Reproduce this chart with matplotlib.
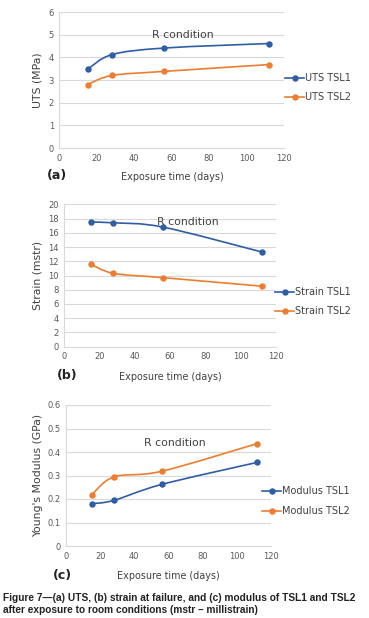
import matplotlib
matplotlib.use("Agg")
import matplotlib.pyplot as plt
from matplotlib.path import Path
from matplotlib.patches import PathPatch
from matplotlib.lines import Line2D
import numpy as np

days = [15, 28, 56, 112]

uts_tsl1 = [3.47, 4.12, 4.41, 4.61]
uts_tsl2 = [2.80, 3.20, 3.38, 3.68]

strain_tsl1 = [17.5, 17.4, 16.8, 13.3]
strain_tsl2 = [11.6, 10.3, 9.7, 8.5]

mod_tsl1 = [0.180, 0.194, 0.262, 0.356]
mod_tsl2 = [0.218, 0.294, 0.318, 0.436]

x_ticks = [0, 20, 40, 60, 80, 100, 120]

BLUE = "#2F5DA6"
ORANGE = "#ED7D31"
GRID = "#D9D9D9"
TICK = "#595959"
TXT = "#404040"


def smooth_path(xs, ys):
    p = np.column_stack([xs, ys]).astype(float)
    n = len(p)
    verts = [p[0]]
    codes = [Path.MOVETO]
    for i in range(n - 1):
        p0 = p[i - 1] if i > 0 else p[i]
        p1 = p[i]
        p2 = p[i + 1]
        p3 = p[i + 2] if i + 2 < n else p[i + 1]
        c1 = p1 + (p2 - p0) / 6.0
        c2 = p2 - (p3 - p1) / 6.0
        verts += [c1, c2, p2]
        codes += [Path.CURVE4] * 3
    return Path(verts, codes)


fig = plt.figure(figsize=(3.69, 6.18), dpi=100)
W, H = 369.0, 618.0


def make_axes(left, right, top, bottom):
    return fig.add_axes([left / W, 1 - bottom / H, (right - left) / W, (bottom - top) / H])


panels = [
    dict(box=(59.5, 284, 12, 148), ymax=6, ystep=1, ylabel="UTS (MPa)",
         s1=uts_tsl1, s2=uts_tsl2, n1="UTS TSL1", n2="UTS TSL2",
         rc=(66, 4.98), tag="(a)", tagxy=(47, 176), xlab=(172, 177),
         leg=(285, 78, 97), ylx=38, yfmt="{:g}"),
    dict(box=(64, 276, 204.3, 346.7), ymax=20, ystep=2, ylabel="Strain (mstr)",
         s1=strain_tsl1, s2=strain_tsl2, n1="Strain TSL1", n2="Strain TSL2",
         rc=(70, 17.5), tag="(b)", tagxy=(57, 376), xlab=(170, 377),
         leg=(275, 292, 311), ylx=38, yfmt="{:g}"),
    dict(box=(66, 271, 405, 546), ymax=0.6, ystep=0.1, ylabel="Young's Modulus (GPa)",
         s1=mod_tsl1, s2=mod_tsl2, n1="Modulus TSL1", n2="Modulus TSL2",
         rc=(63.6, 0.437), tag="(c)", tagxy=(53, 575), xlab=(168, 576),
         leg=(262, 491, 511), ylx=38, yfmt="{:g}"),
]

for pnl in panels:
    l, r, t, b = pnl["box"]
    ax = make_axes(l, r, t, b)
    ax.set_xlim(0, 120)
    ax.set_ylim(0, pnl["ymax"])
    yt = np.round(np.arange(0, pnl["ymax"] + pnl["ystep"] / 2, pnl["ystep"]), 3)
    ax.set_yticks(yt)
    ax.set_yticklabels([pnl["yfmt"].format(v) for v in yt])
    ax.set_xticks(x_ticks)
    ax.grid(axis="y", color=GRID, linewidth=0.8)
    ax.set_axisbelow(True)
    for s in ["top", "right"]:
        ax.spines[s].set_visible(False)
    for s in ["left", "bottom"]:
        ax.spines[s].set_color(GRID)
        ax.spines[s].set_linewidth(0.8)
    ax.tick_params(length=0, labelsize=6, colors=TICK, pad=4)
    for series, col in ((pnl["s1"], BLUE), (pnl["s2"], ORANGE)):
        ax.add_patch(PathPatch(smooth_path(days, series), fill=False,
                               edgecolor=col, linewidth=1.2, zorder=3))
        ax.plot(days, series, linestyle="none", marker="o", markersize=3.6,
                color=col, zorder=4)
    ax.text(pnl["rc"][0], pnl["rc"][1], "R condition", ha="center", va="center",
            fontsize=7.8, color=TXT, zorder=5)
    # y label
    fig.text(pnl["ylx"] / W, 1 - ((t + b) / 2) / H, pnl["ylabel"], rotation=90,
             ha="center", va="center", fontsize=7.8, color=TXT)
    # x label
    fig.text(pnl["xlab"][0] / W, 1 - pnl["xlab"][1] / H, "Exposure time (days)",
             ha="center", va="center", fontsize=6.9, color=TXT)
    fig.text(pnl["tagxy"][0] / W, 1 - pnl["tagxy"][1] / H, pnl["tag"],
             ha="left", va="center", fontsize=9, fontweight="bold", color="#222222")
    # legend entries
    lx, ly1, ly2 = pnl["leg"]
    for yy, col, name in ((ly1, BLUE, pnl["n1"]), (ly2, ORANGE, pnl["n2"])):
        fy = 1 - yy / H
        fig.add_artist(Line2D([lx / W, (lx + 19) / W], [fy, fy], color=col,
                              linewidth=1.2, transform=fig.transFigure))
        fig.add_artist(Line2D([(lx + 9.5) / W], [fy], color=col, marker="o",
                              markersize=3.6, transform=fig.transFigure))
        fig.text((lx + 20) / W, fy, name, ha="left", va="center",
                 fontsize=7, color=TXT)

cap_font = ["Liberation Sans Narrow", "Liberation Sans", "DejaVu Sans"]
fig.text(3 / W, 1 - 598 / H,
         "Figure 7\u2014(a) UTS, (b) strain at failure, and (c) modulus of TSL1 and TSL2",
         ha="left", va="center", fontsize=7.3, fontweight="bold", family=cap_font,
         color="#222222")
fig.text(3 / W, 1 - 610 / H,
         "after exposure to room conditions (mstr \u2013 millistrain)",
         ha="left", va="center", fontsize=7.3, fontweight="bold", family=cap_font,
         color="#222222")

fig.savefig("out.png", dpi=100)
